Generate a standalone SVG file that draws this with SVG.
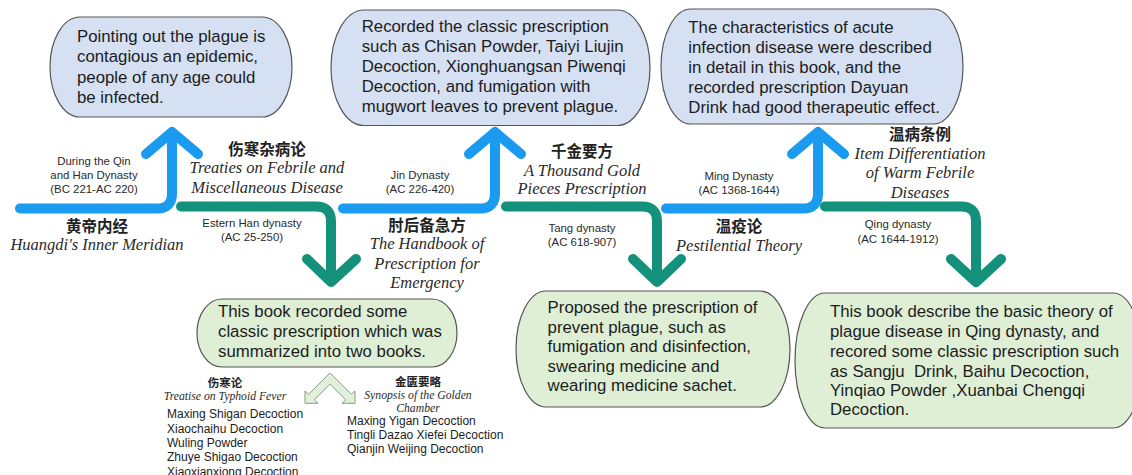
<svg xmlns="http://www.w3.org/2000/svg" width="1132" height="475" viewBox="0 0 1132 475">
  <style>
    .bbox { fill: #d5e0f2; stroke: #555; stroke-width: 1.2; }
    .gbox { fill: #deefd6; stroke: #555; stroke-width: 1.2; }
    .btxt { font-family: "Liberation Sans", Arial, sans-serif; font-size: 16.8px; fill: #1c1c1c; }
    .dyn { font-family: "Liberation Sans", Arial, sans-serif; font-size: 11.4px; fill: #2a2a2a; text-anchor: middle; }
    .cn { font-family: "Noto Sans CJK SC", sans-serif; font-size: 15.5px; font-weight: bold; fill: #222; text-anchor: middle; }
    .cns { font-family: "Noto Sans CJK SC", sans-serif; font-size: 11.5px; font-weight: bold; fill: #222; text-anchor: middle; }
    .it { font-family: "Liberation Serif", "Times New Roman", serif; font-style: italic; font-size: 16.5px; fill: #2a2a2a; text-anchor: middle; }
    .its { font-family: "Liberation Serif", "Times New Roman", serif; font-style: italic; font-size: 11.7px; fill: #2a2a2a; text-anchor: middle; }
    .lst { font-family: "Liberation Sans", Arial, sans-serif; font-size: 12px; fill: #1c1c1c; }
    .blue { fill: none; stroke: #1b9bf0; stroke-width: 10; stroke-linecap: round; stroke-linejoin: round; }
    .green { fill: none; stroke: #13917a; stroke-width: 10; stroke-linecap: round; stroke-linejoin: round; }
  </style>

  <g id="connectors">
    <!-- Qin/Han blue -->
    <path class="blue" d="M20 208.5 H157 Q172 208.5 172 193.5 V134"/>
    <polyline class="blue" points="146,154 172,132 198,154"/>
    <!-- Eastern Han green -->
    <path class="green" d="M181 206.5 H316 Q331 206.5 331 221.5 V280"/>
    <polyline class="green" points="307,259 331,282 356,259"/>
    <!-- Jin blue -->
    <path class="blue" d="M343 208.5 H480 Q495 208.5 495 193.5 V134"/>
    <polyline class="blue" points="469,154 495,132 521,154"/>
    <!-- Tang green -->
    <path class="green" d="M506 206.5 H642 Q657 206.5 657 221.5 V280"/>
    <polyline class="green" points="633,259 657,282 681,259"/>
    <!-- Ming blue -->
    <path class="blue" d="M666 208.5 H803 Q818 208.5 818 193.5 V134"/>
    <polyline class="blue" points="792,154 818,132 844,154"/>
    <!-- Qing green -->
    <path class="green" d="M825 206.5 H961 Q976 206.5 976 221.5 V280"/>
    <polyline class="green" points="951,259 976,282 1001,259"/>
    <!-- split double arrow -->
    <polygon points="330,372.9 308.7,394.2 305,391 305,403.3 318,403.3 314.3,399.8 330,384.1 345.7,399.8 342,403.3 355,403.3 355,391 351.3,394.2" fill="#e2f0d9" stroke="#8c9c84" stroke-width="1" stroke-linejoin="miter"/>
  </g>

  <g id="node-qin-box">
    <rect class="bbox" x="50" y="17" width="242" height="100" rx="30" ry="50"/>
    <text class="btxt" x="77" y="41.7">Pointing out the plague is</text>
    <text class="btxt" x="77" y="62.3">contagious an epidemic,</text>
    <text class="btxt" x="77" y="82.7">people of any age could</text>
    <text class="btxt" x="77" y="103.3">be infected.</text>
  </g>

  <g id="node-jin-box">
    <rect class="bbox" x="331" y="10" width="319" height="115.5" rx="33" ry="57.7"/>
    <text class="btxt" x="361.7" y="32.3">Recorded the classic prescription</text>
    <text class="btxt" x="361.7" y="52.3">such as Chisan Powder, Taiyi Liujin</text>
    <text class="btxt" x="361.7" y="72.3">Decoction, Xionghuangsan Piwenqi</text>
    <text class="btxt" x="361.7" y="92.3">Decoction, and fumigation with</text>
    <text class="btxt" x="361.7" y="111.7">mugwort leaves to prevent plague.</text>
  </g>

  <g id="node-ming-box">
    <rect class="bbox" x="661" y="9" width="302" height="115" rx="30" ry="57.5"/>
    <text class="btxt" x="688.3" y="33.3">The characteristics of acute</text>
    <text class="btxt" x="688.3" y="53.3">infection disease were described</text>
    <text class="btxt" x="688.3" y="73.3">in detail in this book, and the</text>
    <text class="btxt" x="688.3" y="93.3">recorded prescription Dayuan</text>
    <text class="btxt" x="688.3" y="112.7">Drink had good therapeutic effect.</text>
  </g>

  <g id="node-han-box">
    <rect class="gbox" x="197" y="299" width="260" height="68" rx="25" ry="34"/>
    <text class="btxt" x="218" y="317">This book recorded some</text>
    <text class="btxt" x="218" y="337">classic prescription which was</text>
    <text class="btxt" x="218" y="357">summarized into two books.</text>
  </g>

  <g id="node-tang-box">
    <rect class="gbox" x="516" y="291" width="274" height="116" rx="30" ry="58"/>
    <text class="btxt" x="547.6" y="313.3">Proposed the prescription of</text>
    <text class="btxt" x="547.6" y="332.7">prevent plague, such as</text>
    <text class="btxt" x="547.6" y="352">fumigation and disinfection,</text>
    <text class="btxt" x="547.6" y="371.7">swearing medicine and</text>
    <text class="btxt" x="547.6" y="391">wearing medicine sachet.</text>
  </g>

  <g id="node-qing-box">
    <rect class="gbox" x="795" y="293" width="348" height="135" rx="30" ry="67.5"/>
    <text class="btxt" x="830" y="316.7">This book describe the basic theory of</text>
    <text class="btxt" x="830" y="336.7">plague disease in Qing dynasty, and</text>
    <text class="btxt" x="830" y="356.7">recored some classic prescription such</text>
    <text class="btxt" x="830" y="376.7" xml:space="preserve">as Sangju  Drink, Baihu Decoction,</text>
    <text class="btxt" x="830" y="396">Yinqiao Powder ,Xuanbai Chengqi</text>
    <text class="btxt" x="830" y="415">Decoction.</text>
  </g>

  <g id="node-qin-label">
    <text class="dyn" x="94" y="165">During the Qin</text>
    <text class="dyn" x="94" y="179">and Han Dynasty</text>
    <text class="dyn" x="94" y="193">(BC 221-AC 220)</text>
    <text class="cn" x="97" y="231.5">黄帝内经</text>
    <text class="it" x="97" y="250">Huangdi's Inner Meridian</text>
  </g>

  <g id="node-han-label">
    <text class="cn" x="267" y="155">伤寒杂病论</text>
    <text class="it" x="267" y="173">Treaties on Febrile and</text>
    <text class="it" x="267" y="193">Miscellaneous Disease</text>
    <text class="dyn" x="252" y="227">Estern Han dynasty</text>
    <text class="dyn" x="252" y="241">(AC 25-250)</text>
  </g>

  <g id="node-jin-label">
    <text class="dyn" x="420" y="179">Jin Dynasty</text>
    <text class="dyn" x="420" y="193">(AC 226-420)</text>
    <text class="cn" x="427" y="231">肘后备急方</text>
    <text class="it" x="427" y="249">The Handbook of</text>
    <text class="it" x="427" y="268.5">Prescription for</text>
    <text class="it" x="427" y="288">Emergency</text>
  </g>

  <g id="node-tang-label">
    <text class="cn" x="582" y="156.5">千金要方</text>
    <text class="it" x="582" y="175.5">A Thousand Gold</text>
    <text class="it" x="582" y="194">Pieces Prescription</text>
    <text class="dyn" x="582" y="232">Tang dynasty</text>
    <text class="dyn" x="582" y="245.5">(AC 618-907)</text>
  </g>

  <g id="node-ming-label">
    <text class="dyn" x="739" y="180">Ming Dynasty</text>
    <text class="dyn" x="739" y="194">(AC 1368-1644)</text>
    <text class="cn" x="739" y="231.5">温疫论</text>
    <text class="it" x="739" y="251">Pestilential Theory</text>
  </g>

  <g id="node-qing-label">
    <text class="cn" x="920" y="140">温病条例</text>
    <text class="it" x="920" y="159">Item Differentiation</text>
    <text class="it" x="920" y="178">of Warm Febrile</text>
    <text class="it" x="920" y="198">Diseases</text>
    <text class="dyn" x="898" y="228">Qing dynasty</text>
    <text class="dyn" x="898" y="243">(AC 1644-1912)</text>
  </g>

  <g id="node-shanghan">
    <text class="cns" x="225" y="387">伤寒论</text>
    <text class="its" x="225" y="400">Treatise on Typhoid Fever</text>
    <text class="lst" x="167" y="418.3">Maxing Shigan Decoction</text>
    <text class="lst" x="167" y="432.6">Xiaochaihu Decoction</text>
    <text class="lst" x="167" y="446.9">Wuling Powder</text>
    <text class="lst" x="167" y="461.2">Zhuye Shigao Decoction</text>
    <text class="lst" x="167" y="475.5">Xiaoxianxiong Decoction</text>
  </g>

  <g id="node-jingui">
    <text class="cns" x="418" y="386">金匮要略</text>
    <text class="its" x="418" y="399">Synopsis of the Golden</text>
    <text class="its" x="418" y="412">Chamber</text>
    <text class="lst" x="347" y="424.5">Maxing Yigan Decoction</text>
    <text class="lst" x="347" y="438.8">Tingli Dazao Xiefei Decoction</text>
    <text class="lst" x="347" y="453">Qianjin Weijing Decoction</text>
  </g>
</svg>
